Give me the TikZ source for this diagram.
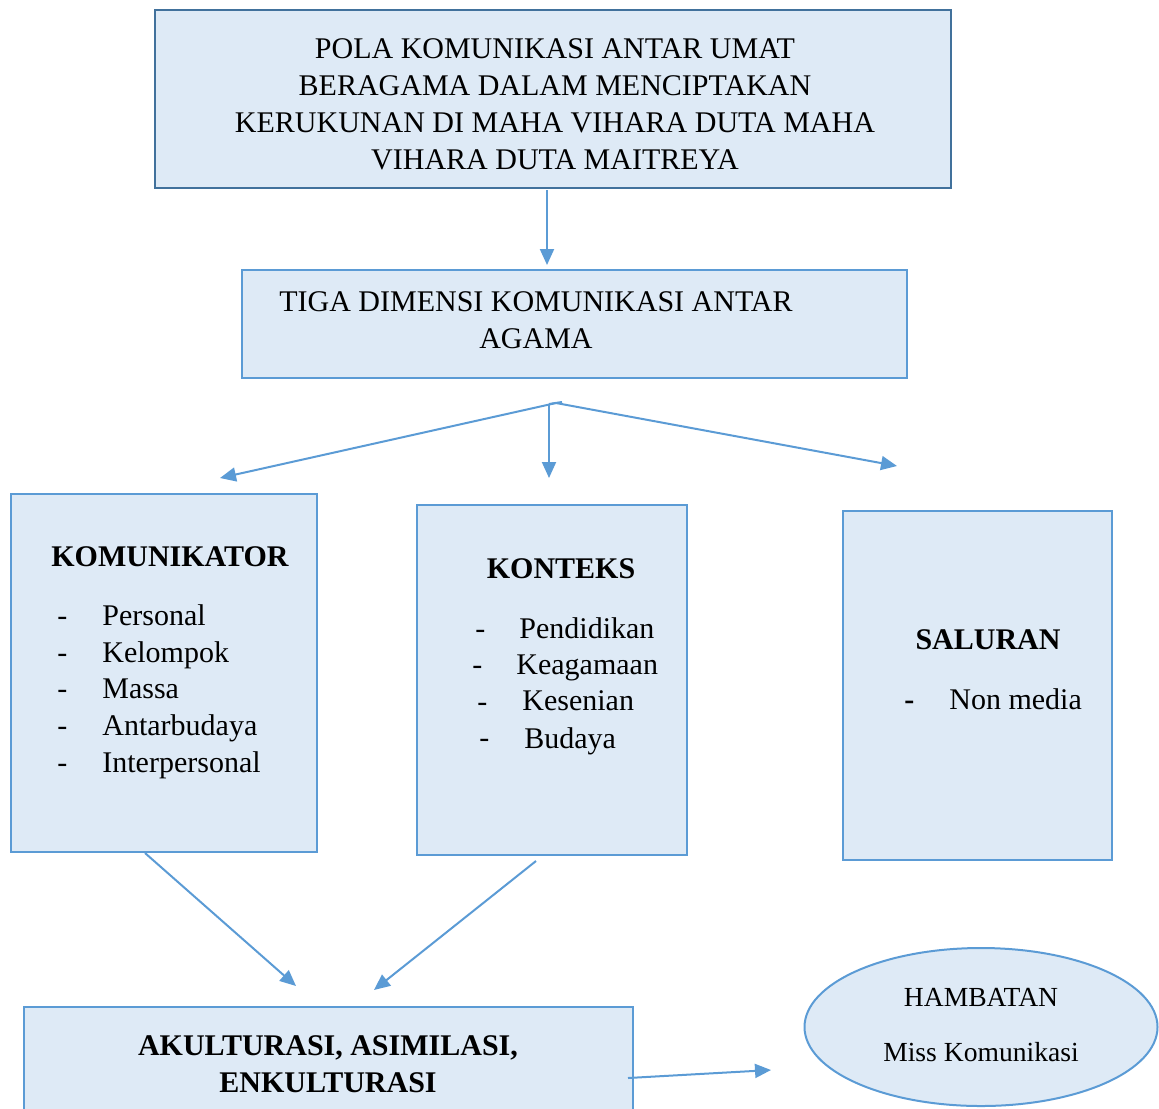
\documentclass[tikz,border=0pt]{standalone}
\usepackage{fontspec}
\setmainfont{Liberation Serif}
\usetikzlibrary{arrows.meta,positioning,shapes.geometric}
\definecolor{BoxFill}{HTML}{DEEAF6}
\definecolor{BoxRule}{HTML}{5B9BD5}
\definecolor{TopRule}{HTML}{41719C}
\definecolor{LinkBlue}{HTML}{5B9BD5}
\begin{document}
\begin{tikzpicture}[x=0.5pt,y=-0.5pt,
  box/.style={draw=BoxRule,fill=BoxFill,line width=1.2pt,inner sep=0pt},
  txt/.style={font=\fontsize{15}{18.5}\selectfont,inner sep=0pt},
  ttl/.style={font=\fontsize{15}{18.5}\selectfont\bfseries,inner sep=0pt},
  small/.style={font=\fontsize{13.8}{18.5}\selectfont,inner sep=0pt,anchor=base},
  item/.style={txt,anchor=base west},
  link/.style={-{Triangle[length=8pt,width=7pt]},draw=LinkBlue,line width=1pt}
]
\useasboundingbox (0,0) rectangle (1159,1108);
% boxes
\node[box,draw=TopRule,minimum width=398pt,minimum height=89pt] (judul) at (553,99) {};
\node[txt,align=center] (judultxt) at (555,104) {POLA KOMUNIKASI ANTAR UMAT\\BERAGAMA DALAM MENCIPTAKAN\\KERUKUNAN DI MAHA VIHARA DUTA MAHA\\VIHARA DUTA MAITREYA};
\node[box,minimum width=332.5pt,minimum height=54pt] (dimensi) at (574.5,324) {};
\node[txt,align=center] (dimensitxt) at (536,320) {TIGA DIMENSI KOMUNIKASI ANTAR\\AGAMA};
\node[box,minimum width=153pt,minimum height=179pt] (komunikator) at (164,673) {};
\node[box,minimum width=135pt,minimum height=175pt] (konteks) at (552,680) {};
\node[box,minimum width=134.5pt,minimum height=174.5pt] (saluran) at (977.5,685.5) {};
\node[box,minimum width=304.5pt,minimum height=56.5pt] (akulturasi) at (328.5,1063.5) {};
\node[box,ellipse,line width=1pt,minimum width=176.5pt,minimum height=79pt] (hambatan) at (981,1027) {};
% komunikator
\node[ttl,anchor=base] (komunikatorttl) at (170,566) {KOMUNIKATOR};
\foreach \t [count=\i] in {Personal,Kelompok,Massa,Antarbudaya,Interpersonal}{
  \node[item] (k\i) at (102,589+36.6*\i) {\t};
  \node[item] (kd\i) at (57,589+36.6*\i) {-};
}
% konteks
\node[ttl,anchor=base] (kontekstl) at (561,578) {KONTEKS};
\node[item] (p1) at (519,638) {Pendidikan};
\node[item] (p2) at (516,674) {Keagamaan};
\node[item] (p3) at (522,710) {Kesenian};
\node[item] (p4) at (524,748) {Budaya};
\foreach \i/\x in {1/475,2/472,3/477,4/479}
  \node[item] (pd\i) at (\x,638+36.5*\i-36.5) {-};
% saluran
\node[ttl,anchor=base] (saluranttl) at (988,649) {SALURAN};
\node[ttl,anchor=base west] (sd1) at (904,709) {-};
\node[item] (s1) at (949,709) {Non media};
% hasil
\node[ttl,align=center] (akulturasitxt) at (328,1064) {AKULTURASI, ASIMILASI,\\ENKULTURASI};
\node[small] (hambatanttl) at (981,1006) {HAMBATAN};
\node[small] (hambatanisi) at (981,1061) {Miss Komunikasi};
% connectors
\coordinate (a1) at (547,190);
\coordinate (a2) at (547,265);
\coordinate (cabang) at (556,403);
\coordinate (cabangkanan) at (562,402);
\coordinate (kekiri) at (220,478);
\coordinate (ketengah) at (549,478);
\coordinate (kekanan) at (897,466);
\coordinate (dari1) at (145,853);
\coordinate (ke1) at (296,986);
\coordinate (dari2) at (536,861);
\coordinate (ke2) at (374,990);
\coordinate (dari3) at (628,1078);
\coordinate (ke3) at (771,1070);
\draw[link] (a1) -- (a2);
\draw[LinkBlue,line width=1pt] (549,404) -- (cabangkanan);
\draw[link] (cabang) -- (kekiri);
\draw[link] (549,404) -- (ketengah);
\draw[link] (cabang) -- (kekanan);
\draw[link] (dari1) -- (ke1);
\draw[link] (dari2) -- (ke2);
\draw[link] (dari3) -- (ke3);
\end{tikzpicture}
\end{document}
